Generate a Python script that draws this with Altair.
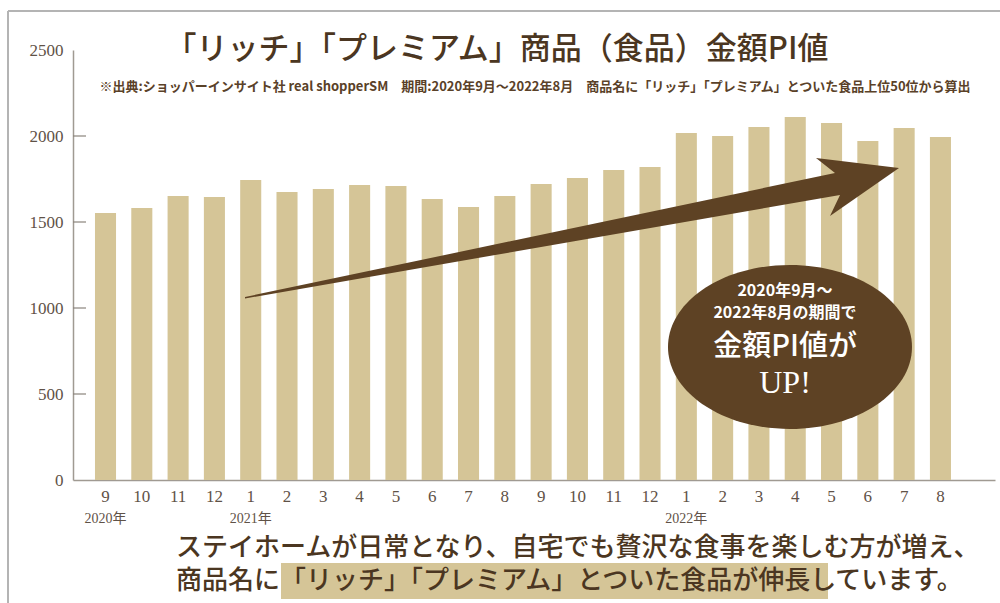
import altair as alt
import pandas as pd

# ---- data ----
months = [9, 10, 11, 12, 1, 2, 3, 4, 5, 6, 7, 8, 9, 10, 11, 12, 1, 2, 3, 4, 5, 6, 7, 8]
years = [2020] * 4 + [2021] * 12 + [2022] * 8
values = [1552, 1581, 1651, 1645, 1744, 1674, 1692, 1715, 1709, 1634, 1587, 1651,
          1721, 1756, 1802, 1820, 2017, 2000, 2052, 2110, 2076, 1971, 2047, 1994]
year_labels = ["2020年", "2021年", "2022年"]
year_label_index = [0, 4, 16]
y_tick_values = [0, 500, 1000, 1500, 2000, 2500]
inner_tick_values = [500, 1000, 1500, 2000]

title_text = "「リッチ」「プレミアム」商品（食品）金額PI値"
source_text = ("※出典:ショッパーインサイト社 real shopperSM　期間:2020年9月～2022年8月　"
               "商品名に「リッチ」「プレミアム」とついた食品上位50位から算出")
bubble_lines = ["2020年9月～", "2022年8月の期間で", "金額PI値が", "UP!"]
message_lines = ["ステイホームが日常となり、自宅でも贅沢な食事を楽しむ方が増え、",
                 "商品名に「リッチ」「プレミアム」とついた食品が伸長しています。"]

# ---- style ----
BAR = "#d5c597"
BROWN = "#5e4224"
TEXT = "#4b3621"
AXIS_TXT = "#5f5247"
W, H = 922, 430
CJK = "Noto Sans CJK JP"
SERIF = "Liberation Serif"

keys = [f"{y}-{m:02d}" for y, m in zip(years, months)]
df = pd.DataFrame({"key": keys, "value": values})
one = pd.DataFrame({"a": [0]})

x_scale = alt.Scale(domain=keys, paddingInner=0.42, paddingOuter=0.909, align=0.333)

bars = alt.Chart(df).mark_bar(color=BAR).encode(
    x=alt.X("key:N", scale=x_scale, sort=keys,
            axis=alt.Axis(title=None, labelExpr="'' + toNumber(slice(datum.value, 5))",
                          labelAngle=0, ticks=False, tickSize=0, labelPadding=8,
                          labelFont=SERIF, labelFontSize=17, labelColor=AXIS_TXT,
                          domainColor="#a09a92", domainWidth=1.5)),
    y=alt.Y("value:Q", scale=alt.Scale(domain=[0, 2500], nice=False),
            axis=alt.Axis(title=None, values=y_tick_values, format="d", ticks=False,
                          tickSize=0, grid=False, labelPadding=10, labelFont=SERIF,
                          labelFontSize=17, labelColor=AXIS_TXT,
                          domainColor="#a09a92", domainWidth=1.5)),
)

ticks = alt.Chart(pd.DataFrame({"v": inner_tick_values})).mark_rule(
    color="#8a847c", strokeWidth=1.2).encode(
    y="v:Q", x=alt.value(0), x2=alt.value(13))

year_df = pd.DataFrame({"key": [keys[i] for i in year_label_index], "label": year_labels})
year_text = alt.Chart(year_df).mark_text(
    font=SERIF + ", " + CJK, fontSize=14, color=AXIS_TXT, baseline="middle").encode(
    x=alt.X("key:N", scale=x_scale, sort=keys), y=alt.value(469), text="label:N")

arrow_path = ("M -3.27 0.70 L 2.63 -0.54 L 2.44 -0.69 L 3.27 -0.59 "
              "L 2.58 -0.11 L 2.68 -0.32 L -3.27 0.715 Z")
arrow = alt.Chart(one).mark_point(shape=arrow_path, filled=True, fill=BROWN,
                                  strokeWidth=0, opacity=1, size=40000).encode(
    x=alt.value(499), y=alt.value(177))

ellipse_path = ("M 1.22 0 C 1.22 0.453 0.674 0.82 0 0.82 C -0.674 0.82 -1.22 0.453 -1.22 0 "
                "C -1.22 -0.453 -0.674 -0.82 0 -0.82 C 0.674 -0.82 1.22 -0.453 1.22 0 Z")
ellipse = alt.Chart(one).mark_point(shape=ellipse_path, filled=True, fill=BROWN,
                                    strokeWidth=0, opacity=1, size=40000).encode(
    x=alt.value(717), y=alt.value(297))


def text_layer(txt, x, y, size, color, font=CJK, weight="normal", align="center"):
    return alt.Chart(pd.DataFrame({"t": [txt]})).mark_text(
        font=font, fontSize=size, color=color, fontWeight=weight, align=align,
        baseline="middle").encode(x=alt.value(x), y=alt.value(y), text="t:N")


bubble = [
    text_layer(bubble_lines[0], 712, 241, 16, "white", weight="bold"),
    text_layer(bubble_lines[1], 712, 263, 16, "white", weight="bold"),
    text_layer(bubble_lines[2], 712, 297, 29, "white", weight=500),
    text_layer(bubble_lines[3], 712, 333, 32, "white", font=SERIF),
]

title = text_layer(title_text, 424, 0, 31, TEXT, weight=500)
source = text_layer(source_text, 462, 37, 13, "#5a4128", weight="bold")

highlight = alt.Chart(one).mark_rect(color=BAR).encode(
    x=alt.value(208), x2=alt.value(755), y=alt.value(513), y2=alt.value(549))
msg1 = text_layer(message_lines[0], 103, 498, 26, TEXT, weight=500, align="left")
msg2 = text_layer(message_lines[1], 103, 531, 26, TEXT, weight=500, align="left")

frame_top = alt.Chart(one).mark_rule(color="#b4b4b4", strokeWidth=2).encode(
    x=alt.value(-65), x2=alt.value(927), y=alt.value(-39))
frame_left = alt.Chart(one).mark_rule(color="#b4b4b4", strokeWidth=2).encode(
    x=alt.value(-65), y=alt.value(-39), y2=alt.value(553))

chart = alt.layer(
    bars, ticks, year_text, arrow, ellipse, *bubble, title, source,
    highlight, msg1, msg2, frame_top, frame_left
).properties(
    width=W, height=H,
    padding={"left": 73, "top": 50, "right": 5, "bottom": 123},
    autosize=alt.AutoSizeParams(type="none"),
    background="white",
).configure_view(stroke=None)

chart.save("out.html", embed_options={"renderer": "svg", "actions": False})
